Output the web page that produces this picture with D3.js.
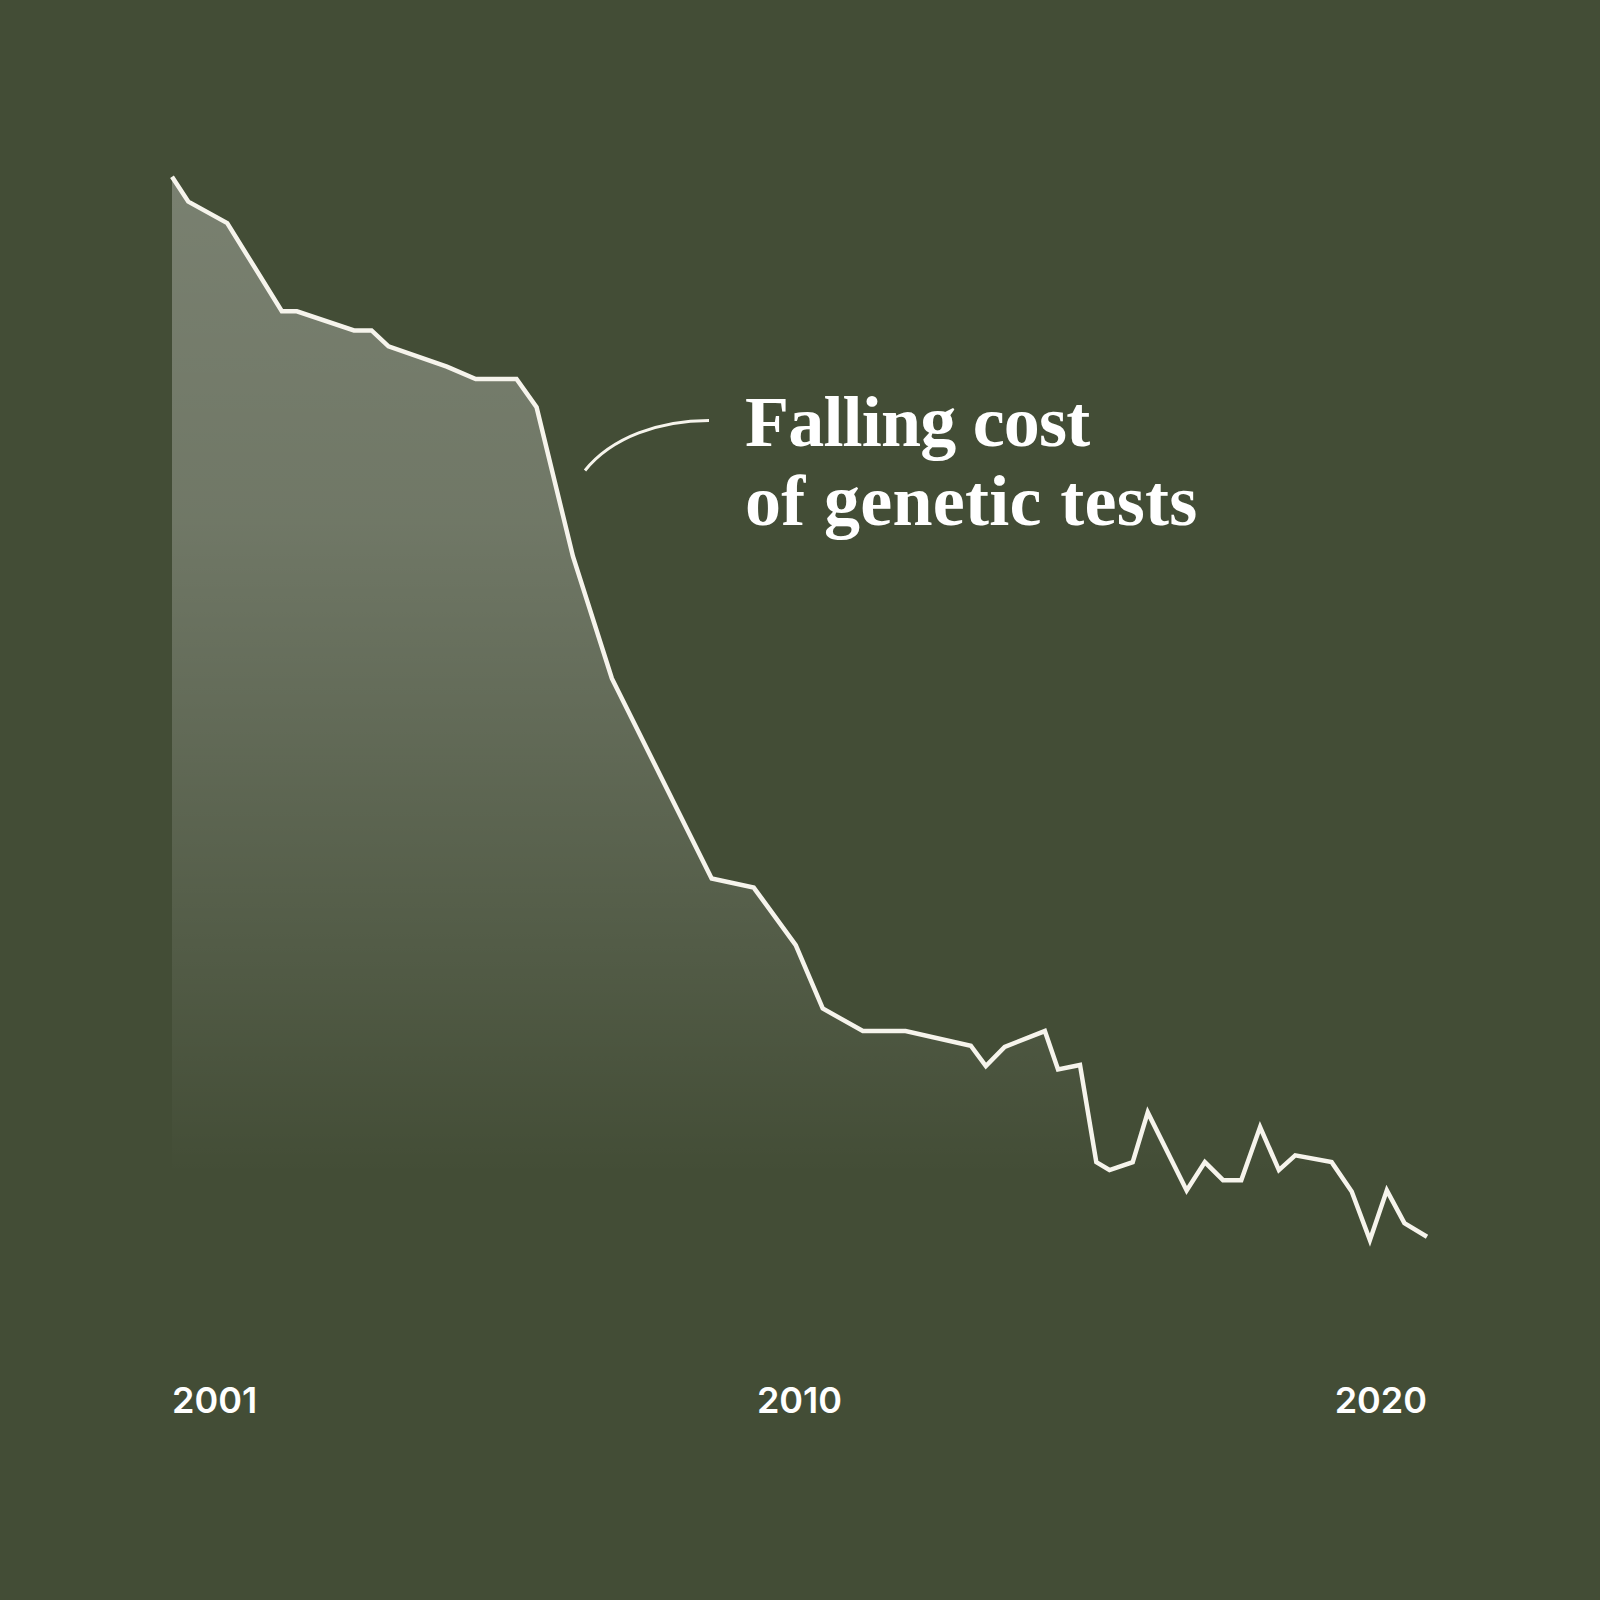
<!DOCTYPE html>
<html>
<head>
<meta charset="utf-8">
<script src="https://cdn.jsdelivr.net/npm/d3@7"></script>
<style>
  html, body { margin: 0; padding: 0; background: #434d36; }
  svg { display: block; }
</style>
</head>
<body>
<svg id="chart" width="1600" height="1600"></svg>
<script>
// Position along the timeline (decimal year) and relative cost index
const years = [2001.00, 2001.26, 2001.88, 2002.75, 2002.99, 2003.90, 2004.18, 2004.45, 2005.38, 2005.84,
               2006.49, 2006.81, 2007.39, 2008.01, 2009.60, 2010.27, 2010.94, 2011.37, 2012.01, 2012.69,
               2013.73, 2013.97, 2014.27, 2014.91, 2015.12, 2015.47, 2015.73, 2015.94, 2016.31, 2016.55,
               2017.17, 2017.46, 2017.75, 2018.04, 2018.34, 2018.64, 2018.90, 2019.48, 2019.80, 2020.09,
               2020.36, 2020.64, 2021.00];
const cost  = [99.4, 97.2, 95.3, 87.5, 87.5, 85.8, 85.8, 84.4, 82.6, 81.5,
               81.5, 79.0, 65.8, 55.0, 37.3, 36.5, 31.4, 25.8, 23.8, 23.8,
               22.5, 20.7, 22.4, 23.8, 20.4, 20.8, 12.2, 11.5, 12.2, 16.6,
                9.7, 12.2, 10.6, 10.6, 15.3, 11.5, 12.8, 12.2,  9.6,  5.3,
                9.7,  6.8,  5.6];
const tickLabels = ["2001", "2010", "2020"];
const titleLines = ["Falling cost", "of genetic tests"];

const svg = d3.select("#chart");
const W = 1600, H = 1600;
svg.append("rect").attr("width", W).attr("height", H).attr("fill", "#434d36");

const x = d3.scaleLinear().domain([2001, 2021]).range([172, 1427]);
const y = d3.scaleLinear().domain([0, 100]).range([1300, 170]);

const data = years.map((yr, i) => ({ yr, v: cost[i] }));

const defs = svg.append("defs");
const grad = defs.append("linearGradient")
  .attr("id", "fillGrad")
  .attr("gradientUnits", "userSpaceOnUse")
  .attr("x1", 0).attr("x2", 0)
  .attr("y1", y(100)).attr("y2", y(11));
grad.append("stop").attr("offset", 0).attr("stop-color", "#ffffff").attr("stop-opacity", 0.29);
grad.append("stop").attr("offset", 0.35).attr("stop-color", "#ffffff").attr("stop-opacity", 0.24);
grad.append("stop").attr("offset", 1).attr("stop-color", "#ffffff").attr("stop-opacity", 0);

const area = d3.area()
  .x(d => x(d.yr))
  .y0(y(0))
  .y1(d => y(d.v));

svg.append("path")
  .datum(data)
  .attr("d", area)
  .attr("fill", "url(#fillGrad)");

const line = d3.line()
  .x(d => x(d.yr))
  .y(d => y(d.v));

svg.append("path")
  .datum(data)
  .attr("d", line)
  .attr("fill", "none")
  .attr("stroke", "#f6f4ec")
  .attr("stroke-width", 4.5)
  .attr("stroke-linejoin", "miter");

// x labels at start / middle / end of the timeline
const xl = d3.scalePoint().domain(tickLabels).range(x.range());
const anchors = ["start", "middle", "end"];
svg.append("g").selectAll("text")
  .data(tickLabels)
  .join("text")
  .attr("x", d => xl(d))
  .attr("y", 1413)
  .attr("text-anchor", (d, i) => anchors[i])
  .attr("fill", "#ffffff")
  .attr("font-family", "Inter, 'Liberation Sans', sans-serif")
  .attr("font-weight", 600)
  .attr("font-size", 36)
  .text(d => d);

// annotation
svg.append("path")
  .attr("d", "M709,420.5 C660,420.5 612,437 585,470.5")
  .attr("fill", "none")
  .attr("stroke", "#f6f4ec")
  .attr("stroke-width", 3);

svg.append("g").selectAll("text")
  .data(titleLines)
  .join("text")
  .attr("x", 745)
  .attr("y", (d, i) => 446 + i * 79)
  .attr("fill", "#ffffff")
  .attr("font-family", "'Liberation Serif', 'DejaVu Serif', serif")
  .attr("font-weight", 700)
  .attr("font-size", 72)
  .attr("letter-spacing", (d, i) => i === 0 ? -0.8 : 0.3)
  .text(d => d);
</script>
</body>
</html>
